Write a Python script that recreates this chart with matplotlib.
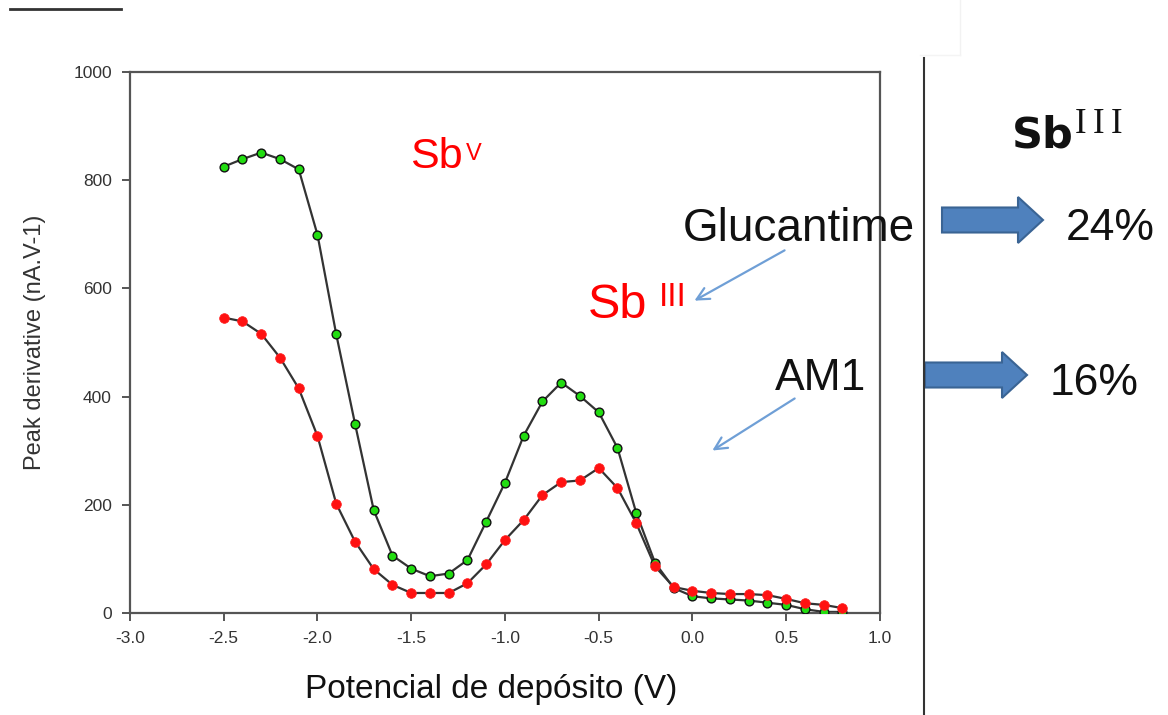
import matplotlib
matplotlib.use("Agg")
import matplotlib.pyplot as plt
from matplotlib.patches import Polygon

plt.rcParams["font.family"] = ["Liberation Sans", "DejaVu Sans"]
plt.rcParams["axes.unicode_minus"] = False

# Potencial de depósito (V)
potencial = [-2.5, -2.4, -2.3, -2.2, -2.1, -2.0, -1.9, -1.8, -1.7, -1.6, -1.5, -1.4,
             -1.3, -1.2, -1.1, -1.0, -0.9, -0.8, -0.7, -0.6, -0.5, -0.4, -0.3, -0.2,
             -0.1, 0.0, 0.1, 0.2, 0.3, 0.4, 0.5, 0.6, 0.7, 0.8]
# Glucantime (verde)
glucantime = [825, 839, 851, 839, 820, 699, 515, 350, 190, 106, 82, 68,
              73, 98, 169, 241, 328, 391, 426, 401, 371, 305, 185, 93,
              46, 31, 27, 25, 23, 19, 15, 7, 2, 2]
# AM1 (rojo)
am1 = [546, 539, 516, 472, 415, 327, 202, 132, 81, 52, 37, 37,
       37, 55, 90, 135, 172, 218, 242, 245, 268, 231, 166, 86,
       48, 41, 37, 35, 35, 33, 26, 18, 15, 9]

xticks = [-3.0, -2.5, -2.0, -1.5, -1.0, -0.5, 0.0, 0.5, 1.0]
yticks = [0, 200, 400, 600, 800, 1000]

W, H = 1168, 715
fig = plt.figure(figsize=(W / 100, H / 100), dpi=100)
fig.patch.set_facecolor("white")

ax = fig.add_axes([130 / W, 1 - 613 / H, 750 / W, 541 / H])
ax.plot(potencial, glucantime, color="#333333", lw=1.6, zorder=2)
ax.plot(potencial, glucantime, ls="none", marker="o", ms=6.3, mfc="#22dd11",
        mec="#111111", mew=1.0, zorder=3)
ax.plot(potencial, am1, color="#333333", lw=1.6, zorder=2)
ax.plot(potencial, am1, ls="none", marker="o", ms=7, mfc="#ff1111",
        mec="#ff2222", mew=0.5, zorder=4)

ax.set_xlim(-3.0, 1.0)
ax.set_ylim(0, 1000)
ax.set_xticks(xticks)
ax.set_xticklabels([f"{t:.1f}" for t in xticks])
ax.set_yticks(yticks)
ax.tick_params(direction="out", length=6, width=1.4, colors="#555555",
               labelcolor="#333333", labelsize=12.5, pad=7)
for s in ax.spines.values():
    s.set_color("#555555")
    s.set_linewidth(1.6)

ax.set_ylabel("Peak derivative (nA.V-1)", fontsize=17, color="#333333")
ax.yaxis.set_label_coords(-0.112, 0.5)
ax.set_xlabel("Potencial de depósito (V)", fontsize=24, color="#111111")
ax.xaxis.set_label_coords(0.481, -0.112)

# capa de anotaciones en píxeles
ov = fig.add_axes([0, 0, 1, 1], facecolor="none")
ov.set_xlim(0, W)
ov.set_ylim(H, 0)
ov.axis("off")

ov.plot([10, 121], [9, 9], color="#333333", lw=2)
ov.plot([924, 924], [58, 715], color="#333333", lw=1.5)
ov.plot([960, 960], [0, 55], color="#f2f2f2", lw=1)
ov.plot([920, 960], [55, 55], color="#f4f4f4", lw=1)

red = "#ff0000"
ov.text(410, 168, "Sb", fontsize=31, color=red, va="baseline", ha="left")
ov.text(466, 160, "V", fontsize=17, color=red, va="baseline", ha="left")
ov.text(588, 318, "Sb", fontsize=35, color=red, va="baseline", ha="left")
ov.text(659, 306, "III", fontsize=24, color=red, va="baseline", ha="left")

ov.text(915, 241, "Glucantime", fontsize=33, color="#111111", va="baseline", ha="right")
ov.text(775, 390, "AM1", fontsize=32, color="#111111", va="baseline", ha="left")

ov.text(1012, 147, "Sb", fontsize=31, fontweight="bold", family="DejaVu Sans",
        color="#111111", va="baseline", ha="left")
for xi in (1075, 1093, 1111):
    ov.text(xi, 133, "I", fontsize=25, family="Liberation Serif",
            color="#111111", va="baseline", ha="left")

ov.text(1066, 240, "24%", fontsize=32, color="#111111", va="baseline", ha="left")
ov.text(1050, 395, "16%", fontsize=32, color="#111111", va="baseline", ha="left")

arrow_kw = dict(arrowstyle="->", color="#6f9fd6", lw=1.6, mutation_scale=22)
ov.annotate("", xy=(692, 302), xytext=(787, 249), arrowprops=arrow_kw)
ov.annotate("", xy=(710, 452), xytext=(797, 397), arrowprops=arrow_kw)


def block_arrow(x0, x1, yc, half_shaft=12.5, half_head=23, head_len=25):
    pts = [(x0, yc - half_shaft), (x1 - head_len, yc - half_shaft),
           (x1 - head_len, yc - half_head), (x1, yc),
           (x1 - head_len, yc + half_head), (x1 - head_len, yc + half_shaft),
           (x0, yc + half_shaft)]
    ov.add_patch(Polygon(pts, closed=True, facecolor="#4f81bd",
                         edgecolor="#3a6494", lw=1.5))


block_arrow(942, 1043, 220)
block_arrow(925, 1027, 375)

fig.savefig("out.png", dpi=100, facecolor="white")
